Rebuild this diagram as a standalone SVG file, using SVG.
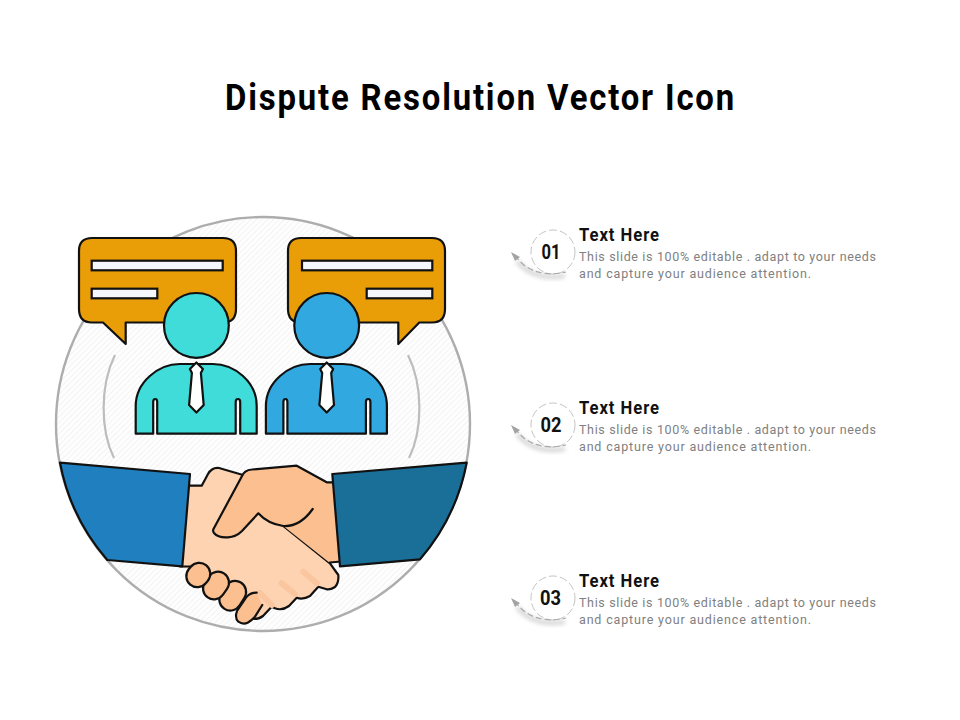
<svg xmlns="http://www.w3.org/2000/svg" width="960" height="720" viewBox="0 0 960 720">
<style>
.o{stroke:#111;stroke-width:2.2;stroke-linejoin:round;stroke-linecap:round}
.bubble{fill:#e99d07}
.bar{fill:#f4f7fb;stroke:#111;stroke-width:2.2}
.tie{fill:#fff}
.lh{fill:#fdd3b1}
.dh{fill:#fbbf90}
.hl{fill:none;stroke:#fac6a0;stroke-width:6;stroke-linecap:round}
.arc{fill:none;stroke:#bdbdbd;stroke-width:2.2}
.t{font-family:Roboto,"Liberation Sans",sans-serif}
.title{font-size:36px;font-weight:700;fill:#000;letter-spacing:2px}
.h{font-size:17.500px;font-weight:700;fill:#111;letter-spacing:1px}
.d{font-size:12.500px;fill:#808080}
.n{font-size:20px;font-weight:700;fill:#111}
.ring{fill:#fff;stroke:#c4c4c4;stroke-width:1;stroke-dasharray:8 3}
.swoosh{fill:none;stroke:#a9a9a9;stroke-width:1.200;stroke-dasharray:6 3}
.shadow{fill:none;stroke:#d2d2d2;stroke-width:4;filter:url(#blur)}
.tip{fill:#a3a3a3}
</style>
<defs>
<pattern id="hatch" width="4" height="4" patternUnits="userSpaceOnUse" patternTransform="rotate(45)">
<rect width="4" height="4" fill="#fefefe"/><rect width="1" height="4" fill="#f3f3f3"/>
</pattern>
<filter id="blur" x="-30%" y="-30%" width="160%" height="160%"><feGaussianBlur stdDeviation="2"/></filter>
<path id="body" d="M0 69.700V42C0 18 23 0 44 0H77C99 0 121 18 121 42V69.700H104.500V38Q104.500 35 102.300 35Q100 35 100 38V69.700H21.500V38Q21.500 35 19.500 35Q17.500 35 17.500 38V69.700Z"/>
<path id="tie" d="M0 -1.500L6.500 5L4.500 9L7.300 41L0 48.500L-7.300 41L-4.500 9L-6.500 5Z"/>
<g id="marker">
<path class="shadow" d="M-36 9C-25 23 -8 27 12 24"/>
<circle class="ring" r="22"/>
<path class="swoosh" d="M-38 3C-27 20 -8 25 13 20"/>
<path class="tip" d="M-42 0L-33 5L-38 9Z"/>
</g>
</defs>

<text class="t title" x="225" y="110" textLength="511" lengthAdjust="spacingAndGlyphs">Dispute Resolution Vector Icon</text>

<g id="backdrop">
<circle cx="263" cy="424" r="207" fill="url(#hatch)" stroke="#adadad" stroke-width="2.400"/>
<path class="arc" d="M115 355C100 385 100 430 114 458"/>
<path class="arc" d="M408 355C423 385 423 430 409 458"/>
</g>

<g id="bubble-left">
<path class="bubble o" d="M92 238H223Q236 238 236 251V309Q236 322.500 223 322.500H125.700V344L103 322.500H92Q79 322.500 79 309V251Q79 238 92 238Z"/>
<rect class="bar" x="91.700" y="260.700" width="131" height="9.600"/>
<rect class="bar" x="91.700" y="288.700" width="65.600" height="9.600"/>
</g>
<g id="bubble-right">
<path class="bubble o" d="M301 238H432Q445 238 445 251V309Q445 322.500 432 322.500H419.300L398.300 344V322.500H301Q288 322.500 288 309V251Q288 238 301 238Z"/>
<rect class="bar" x="302" y="260.700" width="130.300" height="9.600"/>
<rect class="bar" x="366.700" y="288.700" width="65.600" height="9.600"/>
</g>

<g id="person-left">
<use href="#body" class="o" x="135.700" y="364" fill="#3fdcd9"/>
<circle class="o" cx="196.400" cy="325.400" r="32.400" fill="#3fdcd9"/>
<use href="#tie" class="o tie" x="196.400" y="364"/>
</g>
<g id="person-right">
<use href="#body" class="o" x="265.900" y="364" fill="#31a8df"/>
<circle class="o" cx="326.700" cy="325.400" r="32.400" fill="#31a8df"/>
<use href="#tie" class="o tie" x="326.700" y="364"/>
</g>

<g id="handshake">
<path class="lh" d="M186 485.700H201.700L208 474Q212 467 219 468L243 475L286 526L330 563.300L338.300 575Q339 583 335 587Q330 590 326.700 589.300L318.300 586.700L310 596Q303 600 296.700 597.700L289 606Q282 611 275 608.300L271.700 606.700L263 616Q259 619 254 619L240 600L205 575L180 566.300Z"/>
<path class="o" fill="none" d="M186 485.700H201.700L208 474Q212 467 219 468L243 475M283.300 526L330 563.300L338.300 575Q339 583 335 587Q330 590 326.700 589.300L318.300 586.700L310 596Q303 600 296.700 597.700L289 606Q282 611 275 608.300L271.700 606.700L263 616Q259 619 254 619M180 566.500H192"/>
<path class="dh" d="M213.500 529L241.500 477Q244 470 252 469.500L296.700 465.700L326.700 482.300H336L341 561.500L329.300 562.500L283.300 526Q268 524 258.300 513.300L242 531Q236 537 228 537.300Q218 538 214 533Q212.500 531 213.500 529Z"/>
<path class="o" fill="none" d="M336 482.300H326.700L296.700 465.700L252 469.500Q244 470 241.500 477L213.500 529Q212.500 531 214 533Q218 538 228 537.300Q236 537 242 531L258.300 513.300Q268 524 283.300 526Q300 527 312.700 509M329.800 562.500L341 561.500"/>
<path class="hl" d="M303.300 571.700L316.700 583.300"/>
<path class="hl" d="M281.700 583.300L295 594"/>
<path class="hl" d="M260 593L271.700 605"/>
<path class="dh o" d="M256.700 592.700Q251 592.500 246.700 596.700L237 611Q234.500 618 238.300 621.700Q243 625 248 622.500Q252 620 255 616.700L262.300 605"/>
<rect class="dh o" x="221.700" y="580.200" width="22" height="31" rx="11" transform="rotate(32 232.700 595.700)"/>
<rect class="dh o" x="205" y="571" width="22" height="29" rx="11" transform="rotate(35 216 585.500)"/>
<rect class="dh o" x="187.300" y="562.500" width="22" height="25" rx="11" transform="rotate(40 198.300 575)"/>
</g>

<g id="sleeve-left">
<path class="o" fill="#2080bf" d="M60 462.700L190 474L182.300 566.300L107.300 560A207 207 0 0 1 60 462.700Z"/>
</g>
<g id="sleeve-right">
<path class="o" fill="#1a6f99" d="M332.300 474L466.700 462.700A207 207 0 0 1 420 559.300L340 566.300Z"/>
</g>

<g id="item-1">
<use href="#marker" x="553" y="252"/>
<text class="t n" x="541.500" y="259" textLength="19" lengthAdjust="spacingAndGlyphs">01</text>
<text class="t h" x="579" y="241" textLength="81" lengthAdjust="spacingAndGlyphs">Text Here</text>
<text class="t d" x="579" y="261" textLength="297">This slide is 100% editable . adapt to your needs</text>
<text class="t d" x="579" y="278" textLength="232">and capture your audience attention.</text>
</g>
<g id="item-2">
<use href="#marker" x="553" y="425"/>
<text class="t n" x="540.500" y="432" textLength="21" lengthAdjust="spacingAndGlyphs">02</text>
<text class="t h" x="579" y="414" textLength="81" lengthAdjust="spacingAndGlyphs">Text Here</text>
<text class="t d" x="579" y="434" textLength="297">This slide is 100% editable . adapt to your needs</text>
<text class="t d" x="579" y="451" textLength="232">and capture your audience attention.</text>
</g>
<g id="item-3">
<use href="#marker" x="553" y="598"/>
<text class="t n" x="540" y="605" textLength="21" lengthAdjust="spacingAndGlyphs">03</text>
<text class="t h" x="579" y="587" textLength="81" lengthAdjust="spacingAndGlyphs">Text Here</text>
<text class="t d" x="579" y="607" textLength="297">This slide is 100% editable . adapt to your needs</text>
<text class="t d" x="579" y="624" textLength="232">and capture your audience attention.</text>
</g>
</svg>
